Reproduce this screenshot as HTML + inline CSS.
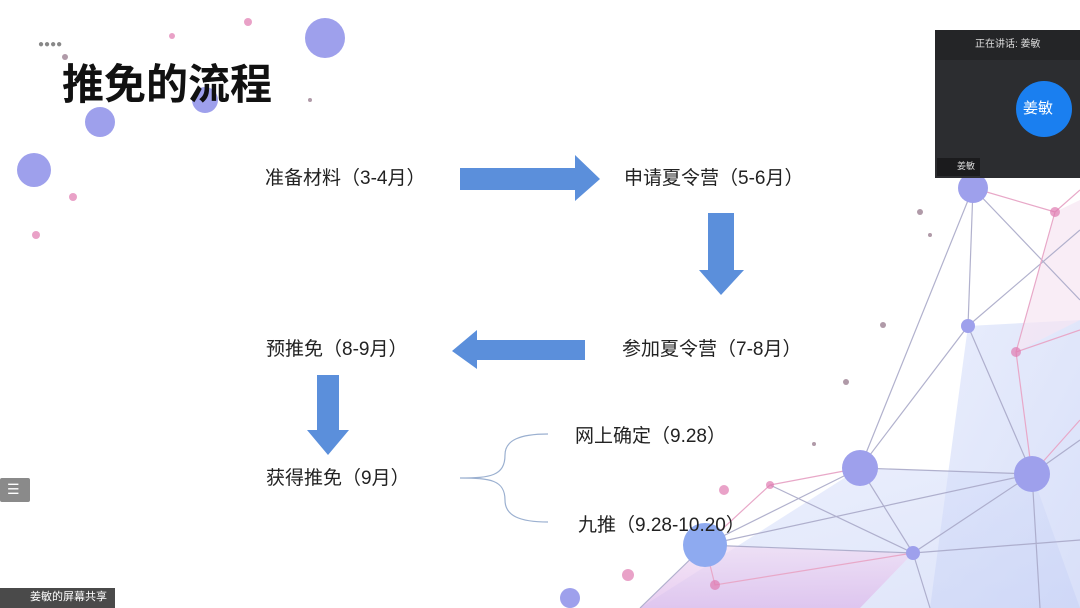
<!DOCTYPE html>
<html><head><meta charset="utf-8"><style>
body{margin:0;width:1080px;height:608px;overflow:hidden;background:#fff;font-family:"Liberation Sans","Noto Sans CJK SC",sans-serif;position:relative}
.t{position:absolute;font-size:19px;color:#222;white-space:nowrap;line-height:1}
</style></head><body>
<svg width="1080" height="608" style="position:absolute;left:0;top:0">
<defs><linearGradient id="g" x1="0" y1="0" x2="1" y2="1"><stop offset="0" stop-color="#dfe6fb"/><stop offset="1" stop-color="#c8d2f6"/></linearGradient>
<linearGradient id="p" x1="0" y1="0" x2="0" y2="1"><stop offset="0" stop-color="#f1dcf3"/><stop offset="1" stop-color="#dcb7ea"/></linearGradient></defs>
<polygon points="968,326 1080,320 1080,608 930,608" fill="url(#g)" opacity=".7"/>
<polygon points="860,468 1032,474 1080,608 640,608" fill="url(#g)" opacity=".6"/>
<polygon points="705,545 913,553 860,608 640,608" fill="url(#p)" opacity=".7"/>
<polygon points="1055,212 1080,200 1080,320 1016,352" fill="#f6e6f2" opacity=".7"/>
<g stroke="#a8a8c8" stroke-width="1.2" fill="none" opacity=".9">
<path d="M973,188 L968,326 L860,468 L913,553 L1032,474 L968,326 M973,188 L860,468 M973,188 L1080,300 M968,326 L1080,230 M860,468 L1032,474 L1080,440 M705,545 L860,468 M705,545 L1032,474 M705,545 L913,553 L1080,540 M913,553 L930,608 M1032,474 L1040,608 M770,485 L913,553 M705,545 L640,608"/>
</g>
<g stroke="#e8a8c8" stroke-width="1.2" fill="none">
<path d="M1055,212 L1016,352 L1032,474 M1055,212 L1080,190 M1016,352 L1080,330 M770,485 L860,468 M770,485 L705,545 M705,545 L715,585 L913,553 M1055,212 L973,188 M1080,420 L1032,474"/>
</g>
<g fill="#9ea0ec">
<circle cx="325" cy="38" r="20"/><circle cx="100" cy="122" r="15"/><circle cx="34" cy="170" r="17"/><circle cx="205" cy="100" r="13"/>
<circle cx="973" cy="188" r="15"/><circle cx="968" cy="326" r="7"/><circle cx="860" cy="468" r="18"/><circle cx="1032" cy="474" r="18"/><circle cx="913" cy="553" r="7"/><circle cx="705" cy="545" r="22" fill="#8eaaf0"/><circle cx="570" cy="598" r="10"/>
</g>
<g fill="#e07ab0" opacity=".7"><circle cx="1055" cy="212" r="5"/><circle cx="1016" cy="352" r="5"/><circle cx="770" cy="485" r="4"/><circle cx="715" cy="585" r="5"/><circle cx="724" cy="490" r="5"/><circle cx="248" cy="22" r="4"/><circle cx="73" cy="197" r="4"/><circle cx="36" cy="235" r="4"/><circle cx="172" cy="36" r="3"/><circle cx="628" cy="575" r="6"/></g>
<g fill="#b09aa8"><circle cx="920" cy="212" r="3"/><circle cx="930" cy="235" r="2"/><circle cx="883" cy="325" r="3"/><circle cx="846" cy="382" r="3"/><circle cx="814" cy="444" r="2"/><circle cx="310" cy="100" r="2"/><circle cx="65" cy="57" r="3"/></g>
<g fill="#5b8fdb">
<polygon points="460,168 575,168 575,155 600,179 575,201 575,190 460,190"/>
<polygon points="708,213 734,213 734,270 744,270 721,295 699,270 708,270"/>
<polygon points="585,340 477,340 477,330 452,351 477,369 477,360 585,360"/>
<polygon points="317,375 339,375 339,430 349,430 328,455 307,430 317,430"/>
</g>
<path d="M460,478 C490,478 505,476 505,455 C505,440 520,434 548,434 M460,478 C490,478 505,480 505,500 C505,516 520,522 548,522" stroke="#9bb0d0" stroke-width="1.2" fill="none"/>
<rect x="935" y="30" width="145" height="148" fill="#2c2d30"/>
<rect x="935" y="30" width="145" height="30" fill="#242527"/>
<circle cx="1044" cy="109" r="28" fill="#1a7ff0"/>
<rect x="937" y="158" width="43" height="18" fill="#1b1b1d"/>
<rect x="0" y="478" width="30" height="24" rx="2" fill="#8a8a8a"/>
<rect x="0" y="588" width="115" height="20" fill="#4a4a4a"/>
</svg>
<div class="t" style="left:62px;top:64px;font-size:42px;font-weight:bold;color:#111">推免的流程</div>
<div class="t" style="left:38px;top:40px;font-size:10px;color:#888">●●●●</div>
<div class="t" style="left:265px;top:169px">准备材料（3-4月）</div>
<div class="t" style="left:624px;top:169px">申请夏令营（5-6月）</div>
<div class="t" style="left:622px;top:340px">参加夏令营（7-8月）</div>
<div class="t" style="left:266px;top:340px">预推免（8-9月）</div>
<div class="t" style="left:266px;top:469px">获得推免（9月）</div>
<div class="t" style="left:575px;top:427px">网上确定（9.28）</div>
<div class="t" style="left:578px;top:516px">九推（9.28-10.20）</div>
<div class="t" style="left:975px;top:40px;font-size:10px;color:#ddd">正在讲话: 姜敏</div>
<div class="t" style="left:1023px;top:101px;font-size:15px;color:#fff">姜敏</div>
<div class="t" style="left:957px;top:162px;font-size:9px;color:#ddd">姜敏</div>
<div class="t" style="left:7px;top:482px;font-size:14px;color:#fff">☰</div>
<div class="t" style="left:30px;top:592px;font-size:11px;color:#fff">姜敏的屏幕共享</div>
</body></html>
